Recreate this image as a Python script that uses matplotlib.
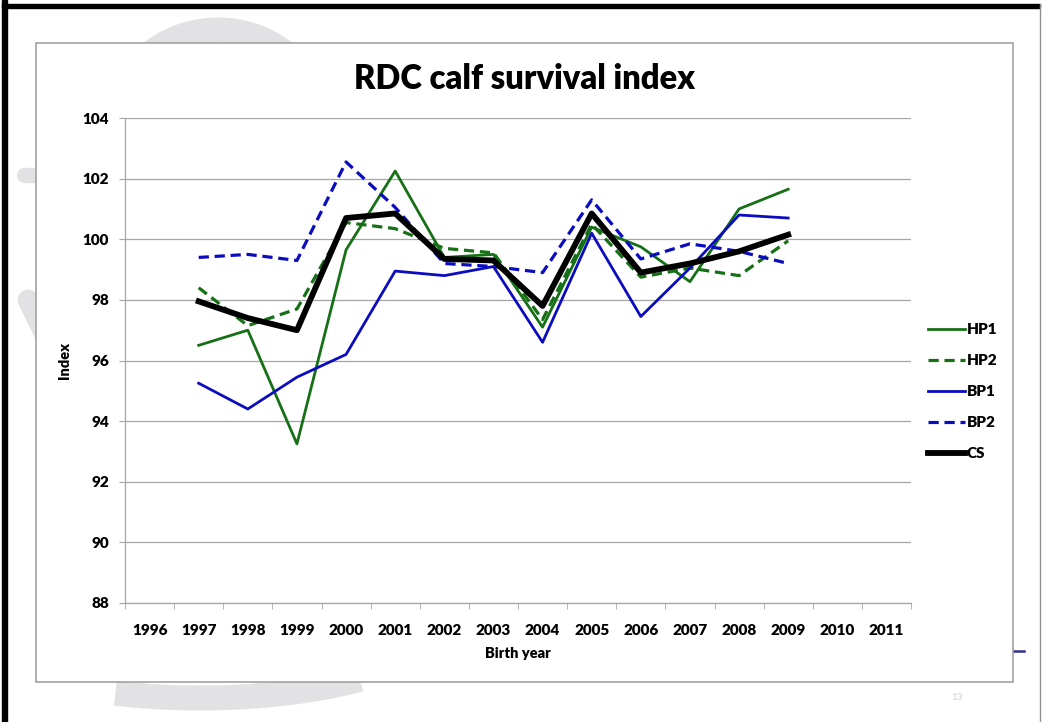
import numpy as np
import matplotlib

matplotlib.use("Agg")
import matplotlib.pyplot as plt
from matplotlib.patches import Rectangle

# ---- data ----
years = list(range(1996, 2012))
data_years = list(range(1997, 2010))
hp1 = [96.5, 97.0, 93.25, 99.65, 102.25, 99.4, 99.5, 97.1, 100.4, 99.75, 98.6, 101.0, 101.65]
hp2 = [98.4, 97.15, 97.7, 100.55, 100.35, 99.7, 99.55, 97.35, 100.5, 98.75, 99.05, 98.8, 99.95]
bp1 = [95.25, 94.4, 95.45, 96.2, 98.95, 98.8, 99.1, 96.6, 100.2, 97.45, 99.05, 100.8, 100.7]
bp2 = [99.4, 99.5, 99.3, 102.55, 101.05, 99.2, 99.1, 98.9, 101.3, 99.35, 99.85, 99.6, 99.2]
cs = [97.95, 97.4, 97.0, 100.7, 100.85, 99.35, 99.3, 97.8, 100.85, 98.9, 99.2, 99.6, 100.15]
y_ticks = list(range(88, 105, 2))

GREEN = "#167016"
BLUE = "#0b0bbf"
GRID = "#a6a6a6"
RING = "#e2e2e4"
FONT = "Lato"
WEIGHT = "heavy"

W, H = 1043, 722
fig = plt.figure(figsize=(W / 100, H / 100), dpi=100)
fig.patch.set_facecolor("white")

# background layer in pixel coords (slide decorations)
bg = fig.add_axes([0, 0, 1, 1])
bg.set_xlim(0, W)
bg.set_ylim(H, 0)
bg.axis("off")


def arc(cx, cy, rx, ry, t0, t1, lw, up=True):
    t = np.radians(np.linspace(t0, t1, 80))
    sign = -1 if up else 1
    bg.plot(cx + rx * np.cos(t), cy + sign * ry * np.sin(t),
            color=RING, lw=lw, solid_capstyle="butt", zorder=1)


arc(218, 140, 110, 110, 45, 135, 18)          # top of the logo ring
arc(200, 610, 260, 88, 52, 109, 18, up=False)  # bottom of the ring
bg.plot([24, 70], [175, 175], color=RING, lw=11, solid_capstyle="round", zorder=1)
bg.plot([28, 50], [300, 345], color=RING, lw=15, solid_capstyle="round", zorder=1)

# slide borders
bg.add_patch(Rectangle((2, 0), 5, H, color="black", zorder=5))
bg.add_patch(Rectangle((2, 4), 1038, 3.5, color="black", zorder=5))
bg.plot([1040, 1040], [4, H], color="#909090", lw=1, zorder=5)

# footer bits peeking out behind the chart box
bg.plot([1013, 1024], [651, 651], color="#2e3192", lw=1.8, zorder=1)
bg.text(499, 672, "g", color="#2e3192", fontsize=16, ha="center", va="center",
        family=FONT, fontweight="bold", zorder=1)
bg.text(957, 697, "13", color="#d0d0d0", fontsize=7, ha="center", va="center", family=FONT)

# chart box
bg.add_patch(Rectangle((36, 43), 1013 - 36, 682 - 43, facecolor="white",
                       edgecolor="#9a9a9a", lw=1.1, zorder=3))
bg.text(525, 79, "RDC calf survival index", fontsize=23.6, fontweight=WEIGHT,
        ha="center", va="center", family=FONT, zorder=4)

# ---- plot area ----
x0, x1, y0, y1 = 125, 911, 118, 603
ax = fig.add_axes([x0 / W, 1 - y1 / H, (x1 - x0) / W, (y1 - y0) / H])
ax.set_facecolor("none")
ax.set_zorder(5)

ax.plot(data_years, hp1, color=GREEN, lw=2.0, label="HP1")
ax.plot(data_years, hp2, color=GREEN, lw=2.3, dashes=(3.2, 1.8), label="HP2")
ax.plot(data_years, bp1, color=BLUE, lw=2.0, label="BP1")
ax.plot(data_years, bp2, color=BLUE, lw=2.3, dashes=(3.2, 1.8), label="BP2")
ax.plot(data_years, cs, color="black", lw=4.2, label="CS")

ax.set_xlim(years[0] - 0.5, years[-1] + 0.5)
ax.set_ylim(y_ticks[0], y_ticks[-1])
ax.set_yticks(y_ticks)
ax.set_xticks(years)
ax.set_xticks([y - 0.5 for y in years] + [years[-1] + 0.5], minor=True)
ax.grid(axis="y", color=GRID, lw=0.9)
ax.set_axisbelow(True)

for s in ("top", "right"):
    ax.spines[s].set_visible(False)
for s in ("left", "bottom"):
    ax.spines[s].set_color(GRID)
    ax.spines[s].set_linewidth(0.9)

ax.tick_params(axis="y", length=4.5, color=GRID, pad=7, labelsize=11)
ax.tick_params(axis="x", which="major", length=0, pad=15, labelsize=11)
ax.tick_params(axis="x", which="minor", length=4, color=GRID, direction="out")
for lbl in ax.get_xticklabels() + ax.get_yticklabels():
    lbl.set_fontweight(WEIGHT)
    lbl.set_family(FONT)

ax.set_xlabel("Birth year", fontsize=10.5, fontweight=WEIGHT, family=FONT, labelpad=7)
ax.set_ylabel("Index", fontsize=10.5, fontweight=WEIGHT, family=FONT, labelpad=8)

leg = ax.legend(loc="upper left", bbox_to_anchor=(928 / W, 1 - 323 / H),
                bbox_transform=fig.transFigure, frameon=False, borderpad=0,
                borderaxespad=0, handlelength=2.45, handletextpad=0.1,
                labelspacing=1.18, prop={"family": FONT, "weight": WEIGHT, "size": 11})

fig.savefig("out.png", dpi=100, facecolor="white")
